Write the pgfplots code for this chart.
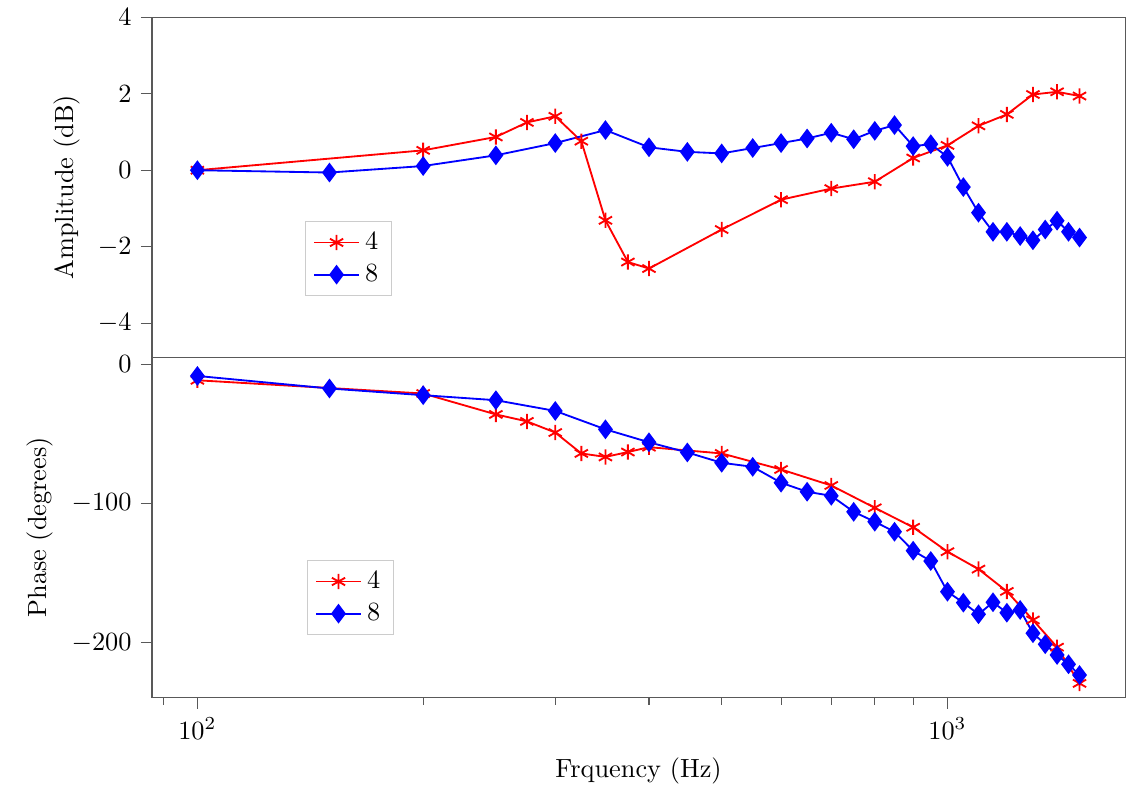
\documentclass[border=0pt]{standalone}
\usepackage{pgfplots}
\pgfplotsset{compat=1.18}
\begin{document}
\begin{tikzpicture}
\pgfplotsset{
  every axis/.append style={
    scale only axis, width=370pt, height=129.3pt,
    xmode=log, xmin=87, xmax=1725,
    tick pos=left, tick align=outside,
    axis line style={black!65}, every tick/.style={black!65},
    legend cell align=left,
    legend style={draw=black!20, font=\normalsize},
  },
  red4/.style={color=red, line width=0.7pt, mark=asterisk, mark size=2.9pt, mark options={solid}},
  blue8/.style={color=blue, line width=0.7pt, mark=diamond*, mark size=3.2pt, mark options={solid, fill=blue}},
}
% ---------- top: amplitude ----------
\begin{axis}[
  at={(0pt,129.3pt)}, anchor=south west,
  ymin=-4.89, ymax=4,
  ytick={-4,-2,0,2,4},
  xmajorticks=false, xminorticks=false,
  ylabel={Amplitude (dB)},
  legend style={at={(axis description cs:0.157,0.179)}, anchor=south west},
]
\addplot[red4] coordinates {
(100,0.00) (200,0.52) (250,0.87) (275,1.25) (300,1.41) (325,0.76) (350,-1.31) (375,-2.40)
(400,-2.57) (500,-1.55) (600,-0.77) (700,-0.48) (800,-0.30) (900,0.32) (1000,0.65)
(1100,1.16) (1200,1.46) (1300,1.98) (1400,2.05) (1500,1.94)
};
\addlegendentry{4}
\addplot[blue8] coordinates {
(100,0.00) (150,-0.06) (200,0.11) (250,0.39) (300,0.71) (350,1.05) (400,0.60) (450,0.48)
(500,0.44) (550,0.58) (600,0.71) (650,0.83) (700,0.98) (750,0.81) (800,1.03) (850,1.18)
(900,0.63) (950,0.68) (1000,0.35) (1050,-0.44) (1100,-1.11) (1150,-1.61) (1200,-1.61)
(1250,-1.72) (1300,-1.83) (1350,-1.55) (1400,-1.32) (1450,-1.61) (1500,-1.76)
};
\addlegendentry{8}
\end{axis}
% ---------- bottom: phase ----------
\begin{axis}[
  at={(0pt,0pt)}, anchor=south west,
  ymin=-239, ymax=5,
  ytick={-200,-100,0},
  xlabel={Frquency (Hz)},
  ylabel={Phase (degrees)},
  legend style={at={(axis description cs:0.159,0.182)}, anchor=south west},
]
\addplot[red4] coordinates {
(100,-11.5) (200,-21) (250,-36) (275,-41) (300,-49) (325,-64) (350,-66.5) (375,-63)
(400,-59.5) (500,-64) (600,-75.5) (700,-87) (800,-103) (900,-117) (1000,-134.5)
(1100,-147) (1200,-163) (1300,-183.5) (1400,-203) (1500,-229)
};
\addlegendentry{4}
\addplot[blue8] coordinates {
(100,-8.4) (150,-17.4) (200,-22.2) (250,-25.8) (300,-33.5) (350,-46.7) (400,-56) (450,-63.3)
(500,-70.7) (550,-73.6) (600,-85) (650,-91.5) (700,-94.4) (750,-105.9) (800,-113)
(850,-120.2) (900,-133.8) (950,-141.2) (1000,-163.2) (1050,-171.1) (1100,-179.4)
(1150,-170.8) (1200,-178.3) (1250,-176.3) (1300,-193) (1350,-200.9) (1400,-208.6)
(1450,-215.3) (1500,-223)
};
\addlegendentry{8}
\end{axis}
\path (-57.8pt,-33.5pt) rectangle (373.4pt,265pt);
\end{tikzpicture}
\end{document}
